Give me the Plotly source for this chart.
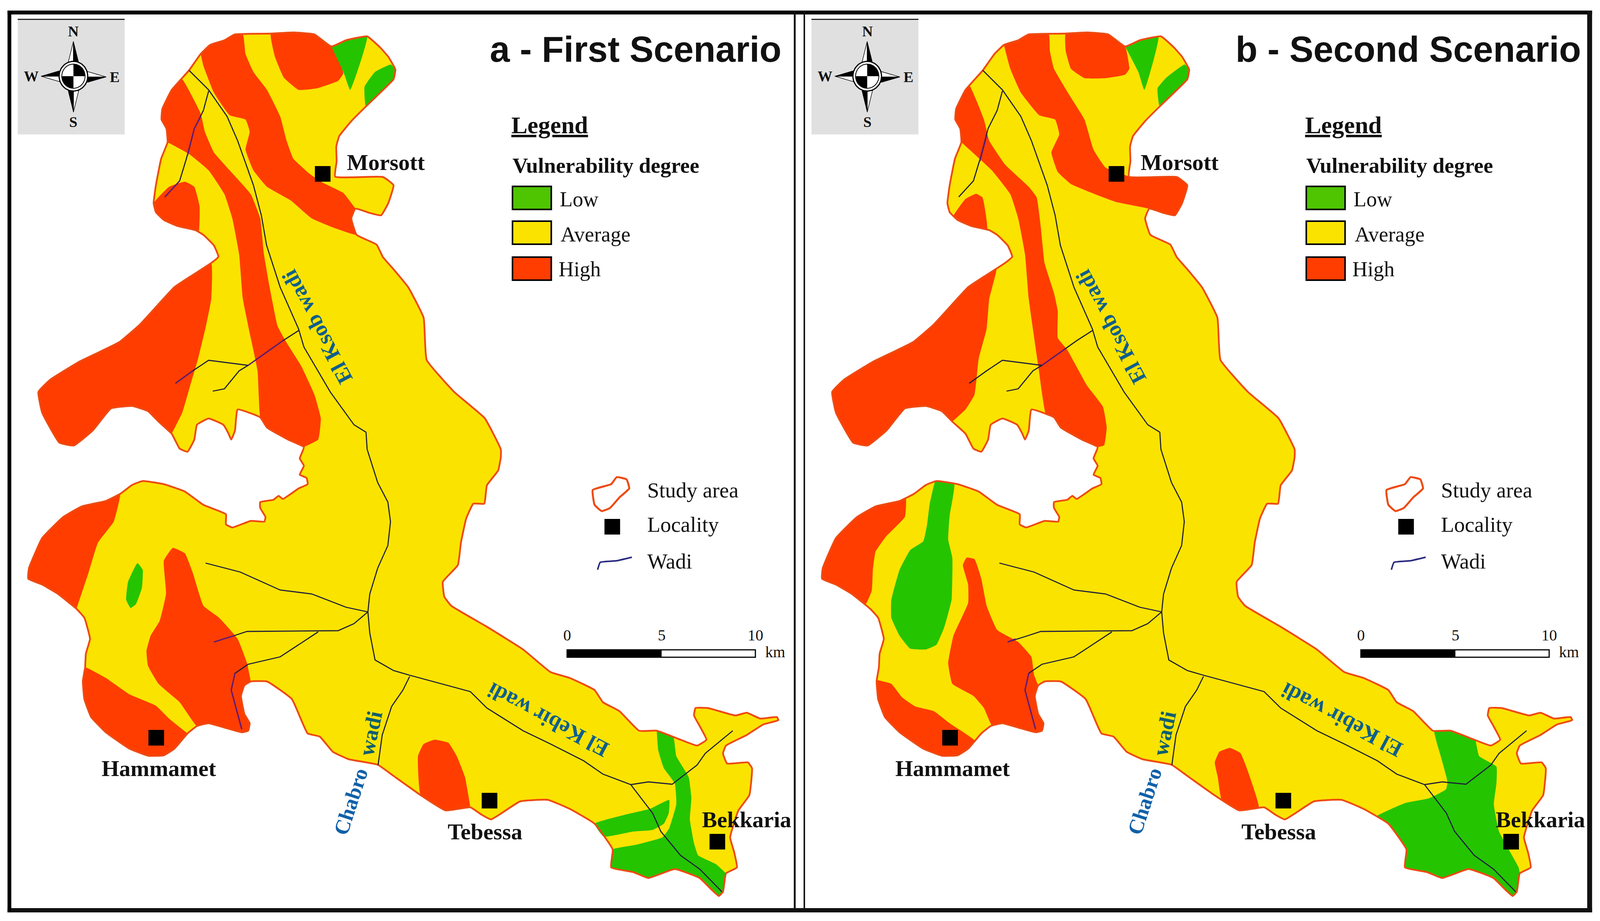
import numpy as np
import plotly.graph_objects as go

WIDTH, HEIGHT = 4249, 2357
PANEL_B_DX = 2108  # panel b is the same map shifted right

YELLOW = "#FBE300"
RED = "#FF3D00"
GREEN = "#25C400"
EDGE = "#EE4A12"
WADI_COLOR = "#1E1E3C"
WADI_ON_RED = "#5E1A78"
LABEL_BLUE = "#0F5E8C"
SERIF = "Liberation Serif"
SANS = "Liberation Sans"

# study area boundary, clockwise (image pixels)
OUTLINE = [
    (624, 88), (716, 86), (779, 83), (835, 88), (880, 119), (919, 103), (975, 93), (1010, 122),
    (1031, 145), (1050, 178), (1045, 203), (1010, 237), (968, 276), (933, 310), (901, 348),
    (893, 375), (894, 413), (890, 452), (1017, 453), (1045, 474), (1031, 520), (1012, 551),
    (982, 545), (944, 534), (933, 559), (947, 601), (1000, 626), (1017, 658), (1045, 689),
    (1084, 735), (1125, 813), (1133, 921), (1206, 1003), (1287, 1070), (1330, 1150), (1330, 1170),
    (1323, 1204), (1293, 1242), (1286, 1289), (1257, 1289), (1238, 1327), (1224, 1389),
    (1216, 1446), (1176, 1489), (1180, 1527), (1198, 1550), (1293, 1604), (1389, 1662),
    (1462, 1720), (1513, 1735), (1579, 1766), (1601, 1797), (1645, 1820), (1697, 1870),
    (1744, 1870), (1807, 1893), (1851, 1908), (1876, 1893), (1858, 1858), (1843, 1831),
    (1847, 1812), (1880, 1812), (1953, 1831), (1983, 1824), (2019, 1839), (2063, 1835),
    (2067, 1843), (2027, 1854), (1983, 1881), (1928, 1908), (1920, 1928), (1931, 1954),
    (1986, 1951), (1997, 1966), (1990, 2035), (1961, 2074), (1939, 2143), (1950, 2182),
    (1957, 2220), (1928, 2235), (1920, 2282), (1909, 2293), (1891, 2278), (1858, 2247),
    (1792, 2224), (1722, 2247), (1682, 2232), (1623, 2220), (1627, 2174), (1579, 2108),
    (1513, 2070), (1455, 2047), (1381, 2051), (1304, 2097), (1279, 2085), (1249, 2066),
    (1183, 2074), (1117, 2035), (1044, 1985), (1003, 1957), (926, 1943), (884, 1924),
    (849, 1885), (817, 1877), (775, 1789), (709, 1744), (666, 1744), (649, 1754), (640, 1781),
    (649, 1827), (663, 1851), (659, 1870), (642, 1874), (596, 1862), (554, 1851), (523, 1858),
    (498, 1877), (463, 1916), (435, 1933), (393, 1934), (344, 1916), (281, 1874), (242, 1835),
    (224, 1789), (220, 1743), (226, 1708), (228, 1673), (239, 1635), (224, 1581), (203, 1558),
    (154, 1520), (112, 1496), (75, 1481), (77, 1454), (112, 1377), (168, 1323), (217, 1296),
    (281, 1282), (319, 1264), (351, 1241), (379, 1231), (435, 1239), (491, 1258), (540, 1292),
    (600, 1316), (600, 1342), (617, 1350), (666, 1333), (702, 1335), (705, 1323), (691, 1300),
    (691, 1285), (726, 1279), (740, 1269), (751, 1277), (793, 1250), (817, 1239), (814, 1223),
    (796, 1215), (807, 1192), (796, 1173), (803, 1156), (807, 1144), (765, 1125), (709, 1094),
    (691, 1068), (631, 1048), (624, 1102), (614, 1125), (607, 1110), (593, 1087), (554, 1071),
    (523, 1087), (516, 1125), (498, 1156), (477, 1148), (456, 1110), (421, 1079), (393, 1052),
    (351, 1039), (295, 1045), (246, 1102), (196, 1140), (158, 1133), (112, 1056), (102, 1003),
    (133, 972), (210, 926), (316, 876), (372, 830), (463, 735), (505, 708), (561, 673),
    (580, 657), (568, 628), (540, 601), (519, 589), (470, 578), (435, 563), (414, 543),
    (408, 520), (414, 474), (428, 406), (445, 364), (442, 329), (429, 306), (431, 279),
    (456, 230), (502, 180), (533, 138), (558, 115), (596, 103),
]

# zones of the first scenario: each zone is a list of inner edges, the gaps follow the boundary
A_HIGH = [
    [[(645, 88), (652, 138), (673, 184), (709, 230), (744, 298), (761, 360), (779, 406), (821, 444),
      (856, 467), (912, 494), (944, 530)],
     [(947, 601), (884, 582), (828, 559), (772, 513), (709, 478), (673, 436), (652, 383), (663, 337),
      (652, 306), (610, 295), (568, 237), (540, 168), (533, 138)]],
    [[(880, 119), (912, 187), (898, 207), (842, 226), (793, 230), (754, 199), (730, 145), (719, 86)]],
    [[(484, 203), (533, 291), (544, 337), (568, 390), (610, 436), (666, 497), (691, 559), (701, 651),
      (716, 735), (737, 834), (758, 872), (800, 937), (835, 1010), (852, 1071), (845, 1125), (807, 1144)],
     [(691, 1068), (684, 949), (666, 865), (645, 765), (635, 650), (617, 559), (596, 497), (554, 436),
      (502, 394), (445, 364)]],
    [[(561, 673), (561, 765), (547, 834), (526, 918), (505, 987), (484, 1056), (456, 1110)]],
    [[(408, 520), (449, 478), (491, 465), (516, 478), (530, 528), (530, 590)]],
    [[(319, 1264), (302, 1335), (260, 1389), (235, 1466), (203, 1558)]],
    [[(523, 1858), (477, 1797), (421, 1750), (393, 1704), (389, 1666), (400, 1627), (424, 1589),
      (441, 1519), (435, 1435), (459, 1402), (491, 1416), (512, 1466), (540, 1550), (582, 1581),
      (631, 1635), (656, 1697), (666, 1744)]],
    [[(226, 1708), (281, 1735), (344, 1777), (414, 1806), (449, 1839), (498, 1877)]],
    [[(1117, 2035), (1110, 1935), (1125, 1904), (1154, 1893), (1191, 1901), (1213, 1935), (1235, 1989),
      (1249, 2066)]],
]
A_LOW = [
    [[(975, 93), (930, 230), (912, 184), (880, 119)]],
    [[(971, 272), (968, 222), (996, 184), (1038, 165), (1050, 178)]],
    [[(1788, 1886), (1796, 1935), (1829, 1989), (1836, 2043), (1832, 2097), (1843, 2158), (1854, 2189),
      (1902, 2212), (1928, 2235)],
     [(1627, 2174), (1689, 2162), (1759, 2143), (1777, 2120), (1796, 2058), (1792, 2005), (1763, 1966),
      (1748, 1920), (1744, 1870)]],
    [[(1579, 2108), (1660, 2085), (1726, 2070), (1777, 2047), (1776, 2081), (1763, 2108), (1733, 2124),
      (1682, 2128), (1603, 2141)]],
]
A_LOW_ISLAND_X = [365, 379, 377, 361, 347, 335, 340, 365]
A_LOW_ISLAND_Y = [1441, 1458, 1504, 1546, 1556, 1535, 1489, 1441]

# zones of the second scenario, in the same frame as panel a
B_HIGH = [
    [[(677, 88), (680, 130), (691, 176), (733, 245), (772, 306), (796, 383), (828, 429), (894, 452)],
     [(944, 534), (856, 517), (800, 497), (736, 471), (701, 440), (684, 390), (705, 344), (694, 306),
      (652, 295), (603, 237), (575, 176), (558, 115)]],
    [[(880, 119), (891, 176), (880, 191), (828, 200), (772, 200), (736, 176), (722, 130), (722, 86)]],
    [[(470, 222), (505, 306), (519, 360), (561, 421), (624, 478), (645, 505), (656, 582), (666, 673),
      (691, 750), (701, 796), (701, 865), (726, 895), (779, 987), (821, 1041), (831, 1094), (824, 1140),
      (807, 1144)],
     [(670, 1060), (649, 934), (624, 765), (614, 650), (596, 559), (575, 497), (526, 436), (445, 364)]],
    [[(537, 685), (519, 765), (512, 842), (491, 918), (480, 1010), (456, 1048), (421, 1079)]],
    [[(424, 553), (456, 509), (484, 496), (501, 505), (513, 589)]],
    [[(298, 1275), (295, 1323), (245, 1373), (217, 1412), (210, 1458), (207, 1512), (191, 1546)]],
    [[(526, 1855), (505, 1812), (477, 1781), (421, 1750), (410, 1697), (424, 1627), (463, 1543),
      (463, 1496), (449, 1446), (459, 1427), (480, 1431), (498, 1481), (512, 1550), (540, 1612),
      (596, 1643), (631, 1681), (638, 1727), (649, 1754)]],
    [[(223, 1741), (259, 1750), (288, 1785), (323, 1808), (372, 1820), (414, 1851), (480, 1895)]],
    [[(1135, 2048), (1126, 1989), (1118, 1951), (1130, 1924), (1158, 1914), (1186, 1927), (1203, 1966),
      (1235, 2069)]],
]
B_LOW = [
    [[(968, 93), (931, 230), (915, 184), (880, 119)]],
    [[(971, 272), (966, 226), (989, 199), (1038, 165), (1050, 178)]],
    [[(426, 1238), (414, 1319), (410, 1381), (421, 1427), (419, 1535), (400, 1604), (379, 1650),
      (351, 1662), (309, 1660), (281, 1627), (259, 1581), (259, 1535), (281, 1458), (309, 1408),
      (344, 1385), (354, 1342), (361, 1289), (375, 1232)]],
    [[(1809, 1897), (1820, 1935), (1866, 1962), (1866, 2005), (1859, 2058), (1873, 2128), (1925, 2220),
      (1928, 2235)],
     [(1547, 2090), (1624, 2055), (1687, 2043), (1732, 2020), (1736, 2001), (1718, 1935), (1701, 1870)]],
]

# wadis
WADI_KSOB = [(502, 180), (554, 230), (603, 298), (631, 360), (673, 474), (694, 551), (708, 628), (744, 735),
             (793, 842), (807, 888), (877, 1003), (940, 1087), (972, 1106), (975, 1150), (1003, 1235),
             (1030, 1285), (1037, 1335), (1030, 1396), (1003, 1454), (982, 1520), (977, 1566), (982, 1620),
             (996, 1689), (1045, 1716), (1088, 1728), (1249, 1770), (1293, 1812), (1389, 1870), (1462, 1904),
             (1550, 1947), (1601, 1981), (1675, 2008), (1733, 2081), (1755, 2128), (1807, 2189), (1858, 2224),
             (1917, 2282)]
WADI_EAST = [(1675, 2008), (1722, 2001), (1785, 2007), (1851, 1958), (1873, 1928), (1946, 1870)]
WADI_NORTH = [(554, 233), (540, 283), (516, 329), (495, 406), (477, 463), (438, 504)]
WADI_MID = [(793, 846), (751, 872), (659, 935), (554, 922), (512, 949), (466, 981)]
WADI_MID_2 = [(659, 935), (635, 949), (596, 995), (565, 1001)]
WADI_T1 = [(546, 1441), (638, 1464), (744, 1510), (828, 1520), (919, 1554), (977, 1566)]
WADI_T2 = [(977, 1566), (940, 1596), (898, 1614), (656, 1616), (621, 1627), (568, 1643)]
WADI_T3 = [(845, 1617), (744, 1681), (659, 1700), (624, 1723), (614, 1766), (631, 1827), (642, 1866)]
WADI_CHABRO = [(1088, 1731), (1070, 1766), (1040, 1808), (1015, 1881), (1004, 1958)]
WADIS = [WADI_KSOB, WADI_EAST, WADI_NORTH, WADI_MID, WADI_MID_2, WADI_T1, WADI_T2, WADI_T3, WADI_CHABRO]

# stretches where a wadi crosses the red zones and looks purple
A_PURPLE = [[(533, 298), (516, 329), (498, 398)], [(477, 463), (438, 504)], [(751, 872), (659, 935)],
            [(512, 949), (466, 981)], [(621, 1627), (568, 1643)], [(624, 1723), (614, 1766), (631, 1827), (642, 1866)]]
B_PURPLE = [[(512, 348), (494, 413)], [(722, 892), (659, 935)], [(589, 1635), (568, 1643)],
            [(624, 1723), (614, 1766), (631, 1827), (642, 1866)]]

LOCALITY_NAMES = ["Morsott", "Hammamet", "Tebessa", "Bekkaria"]
LOCALITY_X = [857, 415, 1300, 1905]
LOCALITY_Y = [445, 1888, 2049, 2154]
LOCALITY_LABEL_X = [919, 268, 1187, 1862]
LOCALITY_LABEL_Y = [415, 1966, 2128, 2097]

TITLES = ["a - First Scenario", "b - Second Scenario"]
TITLE_RIGHT = [2077, 2092]
DEGREE_LABELS = ["Low", "Average", "High"]
DEGREE_COLORS = ["#4FC400", YELLOW, RED]
DEGREE_BOX_Y = [(477, 536), (566, 625), (658, 717)]
DEGREE_LABEL_X = [1484, 1487, 1481]
DEGREE_LABEL_Y = [510, 600, 689]

SYMBOL_LABELS = ["Study area", "Locality", "Wadi"]
SYMBOL_LABEL_Y = [1254, 1342, 1436]
STUDY_SYMBOL_X = [1574, 1623, 1638, 1664, 1671, 1645, 1620, 1598, 1579, 1574]
STUDY_SYMBOL_Y = [1254, 1239, 1221, 1227, 1250, 1273, 1300, 1308, 1292, 1254]
WADI_SYMBOL_X = [1587, 1594, 1638, 1678]
WADI_SYMBOL_Y = [1458, 1439, 1435, 1426]

SCALE_TICKS = ["0", "5", "10"]
SCALE_X = [1506, 1757, 2006]

# (text, x, y, angle, size, colour)
WADI_LABELS = [
    ("El Ksob wadi", 842, 836, -118, 56, LABEL_BLUE),
    ("El Kebir wadi", 1455, 1843, -152, 57, LABEL_BLUE),
    ("Chabro", 932, 2051, -72, 54, "#1060A8"),
    ("wadi", 984, 1877, -78, 56, "#0F5E6E"),
]

COMPASS_LETTERS = [("N", 195, 80), ("S", 195, 312), ("W", 83, 195), ("E", 304, 197)]
STAR_BLACK = [[(195, 106), (209, 160), (195, 160)], [(195, 287), (181, 232), (195, 232)],
              [(282, 197), (232, 197), (232, 211)], [(109, 195), (158, 195), (158, 181)]]
STAR_WHITE = [[(195, 106), (181, 160), (195, 160)], [(195, 287), (209, 232), (195, 232)],
              [(282, 197), (232, 197), (232, 183)], [(109, 195), (158, 195), (158, 209)]]


def project(point):
    """nearest place on the boundary: (segment index, snapped point)"""
    pts = np.array(OUTLINE + OUTLINE[:1], dtype=float)
    a, b = pts[:-1], pts[1:]
    t = np.clip(((np.array(point) - a) * (b - a)).sum(1) / ((b - a) ** 2).sum(1), 0, 1)
    snapped = a + (b - a) * t[:, None]
    i = int(((snapped - np.array(point)) ** 2).sum(1).argmin())
    return i, tuple(snapped[i])


def zone_points(paths):
    """inner edges joined clockwise along the boundary"""
    n = len(OUTLINE)
    out = []
    for k, path in enumerate(paths):
        i_start, start = project(path[0])
        i_end, end = project(path[-1])
        out += [start] + path[1:-1] + [end]
        i_next, _ = project(paths[(k + 1) % len(paths)][0])
        for step in range((i_next - i_end) % n):
            out.append(OUTLINE[(i_end + 1 + step) % n])
    return out + out[:1]


fig = go.Figure()


def add_poly(points, dx, fill=None, line=None, width=0, shape="linear", smooth=0.35):
    xs = [p[0] + dx for p in points]
    ys = [p[1] for p in points]
    fig.add_trace(go.Scatter(
        x=xs, y=ys, mode="lines", fill="toself" if fill else "none",
        fillcolor=fill, hoverinfo="skip", showlegend=False,
        line=dict(color=line or "rgba(0,0,0,0)", width=width, shape=shape,
                  smoothing=smooth if shape == "spline" else None)))


def add_text(text, x, y, size, font=SERIF, color="#111111", anchor="left", angle=0):
    fig.add_annotation(x=x, y=y, xref="x", yref="y", text=text, showarrow=False, xanchor=anchor,
                       yanchor="middle", textangle=angle, font=dict(family=font, size=size, color=color))


def add_box(x0, y0, x1, y1, fill, line=None, width=0, layer="above"):
    fig.add_shape(type="rect", x0=x0, y0=y0, x1=x1, y1=y1, xref="x", yref="y", fillcolor=fill, layer=layer,
                  line=dict(color=line or "rgba(0,0,0,0)", width=width))


def draw_compass(dx):
    add_box(47 + dx, 49, 331 + dx, 344, "#E0E0E0", layer="below")
    add_box(47 + dx, 48, 331 + dx, 51, "#222222")
    cx, cy = 195 + dx, 195
    for tri in STAR_WHITE:
        add_poly(tri + tri[:1], dx, fill="#FFFFFF", line="#111111", width=1.5)
    for tri in STAR_BLACK:
        add_poly(tri + tri[:1], dx, fill="#000000", line="#000000", width=1)
    ang = np.radians(np.arange(0, 361, 6))
    add_poly(list(zip(cx + 38 * np.cos(ang), cy + 38 * np.sin(ang))), 0, fill="#FFFFFF", line="#000000", width=3)
    add_poly(list(zip(cx + 31 * np.cos(ang), cy + 31 * np.sin(ang))), 0, fill="#FFFFFF", line="#000000", width=2)
    for start in (-90, 90):
        arc = np.radians(np.arange(start, start + 91, 6))
        add_poly([(cx, cy)] + list(zip(cx + 31 * np.cos(arc), cy + 31 * np.sin(arc))) + [(cx, cy)], 0, fill="#000000")


def draw_panel(dx, title, title_right, high, low, islands, purple):
    add_poly(OUTLINE + OUTLINE[:1], dx, fill=YELLOW, shape="spline")
    for paths in high:
        add_poly(zone_points(paths), dx, fill=RED, shape="spline")
    for paths in low:
        add_poly(zone_points(paths), dx, fill=GREEN, shape="spline")
    for island_x, island_y in islands:
        add_poly(list(zip(island_x, island_y)), dx, fill=GREEN, shape="spline")
    add_poly(OUTLINE + OUTLINE[:1], dx, line=EDGE, width=4.5, shape="spline")
    for wadi in WADIS:
        add_poly(wadi, dx, line=WADI_COLOR, width=2.8)
    for stretch in purple:
        add_poly(stretch, dx, line=WADI_ON_RED, width=3.2)

    fig.add_trace(go.Scatter(x=[x + dx for x in LOCALITY_X], y=LOCALITY_Y, mode="markers", hoverinfo="skip",
                             showlegend=False, marker=dict(symbol="square", size=40, color="#000000")))
    for name, x, y in zip(LOCALITY_NAMES, LOCALITY_LABEL_X, LOCALITY_LABEL_Y):
        add_text("<b>%s</b>" % name, x + dx, y, 58)
    for text, x, y, angle, size, color in WADI_LABELS:
        add_text("<b>%s</b>" % text, x + dx, y, size, color=color, anchor="center", angle=angle)

    add_text("<b>%s</b>" % title, title_right + dx, 126, 92, font=SANS, anchor="right")
    add_text("<b><u>Legend</u></b>", 1356 + dx, 320, 62)
    add_text("<b>Vulnerability degree</b>", 1359 + dx, 423, 55)
    for label, color, (y0, y1), lx, ly in zip(DEGREE_LABELS, DEGREE_COLORS, DEGREE_BOX_Y, DEGREE_LABEL_X, DEGREE_LABEL_Y):
        add_box(1361 + dx, y0, 1464 + dx, y1, color, "#000000", 4)
        add_text(label, lx + dx, ly, 54)

    add_poly(list(zip(STUDY_SYMBOL_X, STUDY_SYMBOL_Y)), dx, line=EDGE, width=5, shape="spline")
    fig.add_trace(go.Scatter(x=[1626 + dx], y=[1348], mode="markers", hoverinfo="skip", showlegend=False,
                             marker=dict(symbol="square", size=40, color="#000000")))
    add_poly(list(zip(WADI_SYMBOL_X, WADI_SYMBOL_Y)), dx, line="#2A2A80", width=4, shape="spline")
    for label, y in zip(SYMBOL_LABELS, SYMBOL_LABEL_Y):
        add_text(label, 1717 + dx, y, 55)

    add_box(SCALE_X[0] + dx, 1663, SCALE_X[2] + dx, 1682, "#FFFFFF", "#000000", 3)
    add_box(SCALE_X[0] + dx, 1662, SCALE_X[1] + dx, 1683, "#000000")
    for label, x in zip(SCALE_TICKS, SCALE_X):
        add_text(label, x + dx, 1625, 40, anchor="center")
    add_text("km", 2030 + dx, 1668, 40)

    draw_compass(dx)
    for letter, x, y in COMPASS_LETTERS:
        add_text("<b>%s</b>" % letter, x + dx, y, 38, anchor="center")


draw_panel(0, TITLES[0], TITLE_RIGHT[0], A_HIGH, A_LOW, [(A_LOW_ISLAND_X, A_LOW_ISLAND_Y)], A_PURPLE)
draw_panel(PANEL_B_DX, TITLES[1], TITLE_RIGHT[1], B_HIGH, B_LOW, [], B_PURPLE)

# frame round both panels
add_box(20, 27, 4228, 37, "#000000")
add_box(20, 2324, 4228, 2335, "#111111")
add_box(20, 27, 30, 2335, "#000000")
add_box(4215, 27, 4228, 2335, "#111111")
add_box(2108, 27, 2113, 2335, "#111111")
add_box(2134, 27, 2138, 2335, "#111111")

fig.update_layout(
    width=WIDTH, height=HEIGHT, margin=dict(l=0, r=0, t=0, b=0),
    paper_bgcolor="#FFFFFF", plot_bgcolor="#FFFFFF", showlegend=False,
    xaxis=dict(range=[0, WIDTH], visible=False, fixedrange=True),
    yaxis=dict(range=[HEIGHT, 0], visible=False, fixedrange=True),
)
# fit the figure to whatever window the page is opened in
fit_window = """
document.body.style.margin = '0';
document.documentElement.style.overflow = 'hidden';
Plotly.relayout(document.getElementById('{plot_id}'), {width: window.innerWidth, height: window.innerHeight});
"""
fig.write_html("out.html", config={"displayModeBar": False}, post_script=fit_window)
